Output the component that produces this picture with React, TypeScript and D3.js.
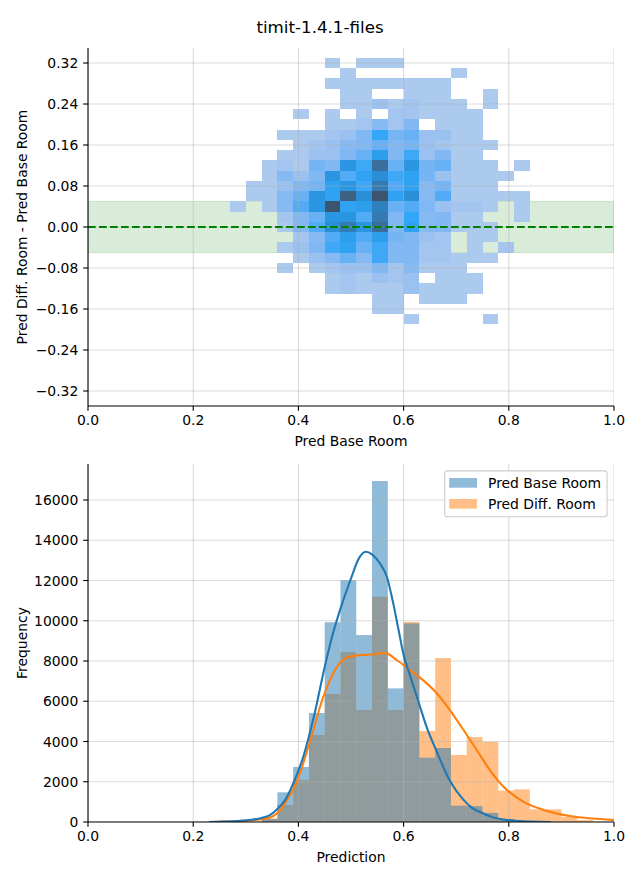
import React from 'react';
import * as d3 from 'd3';

const TITLE = 'timit-1.4.1-files';

// ---------- top panel: 2D histogram ----------
const heatXStart = 0.27;
const heatBinW = 0.03;
const heatBinH = 0.02;
const heatRowCenters = [0.32, 0.30, 0.28, 0.26, 0.24, 0.22, 0.20, 0.18, 0.16, 0.14, 0.12, 0.10, 0.08, 0.06, 0.04, 0.02, 0.00, -0.02, -0.04, -0.06, -0.08, -0.10, -0.12, -0.14, -0.16, -0.18];
const heatCounts = [
  [0,0,0,0,0,0,1,0,1,1,1,0,0,0,0,0,0,0,0],
  [0,0,0,0,0,0,0,1,0,0,0,0,0,0,1,0,0,0,0],
  [0,0,0,0,0,0,1,1,1,1,1,1,1,1,0,0,0,0,0],
  [0,0,0,0,0,0,0,1,1,0,0,1,1,1,0,0,1,0,0],
  [0,0,0,0,0,0,0,1,1,5,1,3,1,1,1,0,1,0,0],
  [0,0,0,0,1,0,1,0,1,0,3,3,1,1,1,1,0,0,0],
  [0,0,0,0,0,0,1,1,3,9,3,10,0,1,1,1,0,0,0],
  [0,0,0,1,1,1,3,5,10,20,12,14,5,5,1,1,0,0,0],
  [0,0,0,0,1,3,5,9,10,14,10,12,5,3,1,1,1,0,0],
  [0,0,0,1,1,5,5,10,14,24,10,19,5,10,1,1,0,0,0],
  [0,0,1,3,1,12,10,28,19,47,14,28,12,14,1,1,1,0,1],
  [0,0,1,9,5,10,28,17,22,31,19,22,12,5,1,1,1,1,0],
  [0,1,1,5,10,12,22,28,19,41,17,22,9,12,1,1,1,0,0],
  [0,1,1,9,14,28,22,54,31,60,22,31,9,17,1,1,1,1,1],
  [1,0,1,9,17,28,60,22,24,38,14,17,10,5,3,3,1,0,1],
  [0,0,0,3,10,14,28,28,17,41,10,20,9,10,1,1,0,0,1],
  [0,0,0,1,10,17,31,41,28,47,10,22,9,10,1,1,1,0,0],
  [0,0,0,0,3,9,17,24,17,24,12,10,5,3,0,1,1,0,0],
  [0,0,0,1,5,10,19,22,14,19,10,10,3,3,0,1,0,3,0],
  [0,0,0,0,1,5,9,14,9,19,10,10,3,3,1,1,1,0,0],
  [0,0,0,1,0,1,3,5,5,10,3,9,1,1,1,0,0,0,0],
  [0,0,0,0,0,0,1,3,1,5,3,5,0,1,1,1,0,0,0],
  [0,0,0,0,0,0,1,3,1,1,1,5,1,1,1,1,0,0,0],
  [0,0,0,0,0,0,0,0,0,1,1,0,1,1,1,0,0,0,0],
  [0,0,0,0,0,0,0,0,0,1,1,0,0,0,0,0,0,0,0],
  [0,0,0,0,0,0,0,0,0,0,0,1,0,0,0,0,1,0,0],
];
const bandLow = -0.05;
const bandHigh = 0.05;
const topYTicks = [0.32, 0.24, 0.16, 0.08, 0.0, -0.08, -0.16, -0.24, -0.32];
const xTicks = [0, 0.2, 0.4, 0.6, 0.8, 1.0];

// ---------- bottom panel: histograms + KDE ----------
const histBinW = 0.03;
const histBinStarts = [0.33, 0.36, 0.39, 0.42, 0.45, 0.48, 0.51, 0.54, 0.57, 0.60, 0.63, 0.66, 0.69, 0.72, 0.75, 0.78, 0.81, 0.84, 0.87, 0.90, 0.93];
const histBase = [150, 1475, 2733, 5416, 9925, 12025, 9290, 16944, 6640, 9870, 3196, 3677, 811, 790, 450, 150, 60, 20, 0, 0, 0];
const histDiff = [180, 845, 2100, 4323, 6360, 8450, 5565, 11196, 5565, 9940, 4522, 8149, 3329, 4223, 3990, 1560, 1620, 630, 630, 260, 100];

const kdeBaseX = [0.23, 0.26, 0.29, 0.31, 0.33, 0.345, 0.36, 0.375, 0.39, 0.41, 0.43, 0.45, 0.465, 0.48, 0.50, 0.515, 0.528, 0.54, 0.555, 0.568, 0.58, 0.59, 0.60, 0.612, 0.628, 0.644, 0.663, 0.688, 0.714, 0.73, 0.752, 0.77, 0.79, 0.82, 0.86, 0.88];
const kdeBaseY = [0, 20, 60, 110, 200, 330, 650, 1100, 1900, 3300, 5300, 7700, 9300, 10600, 12100, 13100, 13430, 13300, 12850, 12200, 10900, 9600, 8300, 7300, 6000, 4700, 3500, 2050, 1100, 700, 420, 230, 120, 50, 10, 0];
const kdeDiffX = [0.23, 0.26, 0.29, 0.31, 0.33, 0.346, 0.36, 0.375, 0.397, 0.422, 0.447, 0.473, 0.492, 0.511, 0.536, 0.565, 0.587, 0.612, 0.637, 0.663, 0.688, 0.714, 0.739, 0.764, 0.79, 0.828, 0.866, 0.916, 0.96, 1.0, 1.03];
const kdeDiffY = [0, 20, 50, 80, 140, 220, 450, 950, 2000, 4000, 6200, 7700, 8180, 8270, 8320, 8390, 8050, 7550, 7050, 6400, 5560, 4570, 3580, 2580, 1750, 1000, 600, 300, 170, 100, 60];
const freqTicks = [0, 2000, 4000, 6000, 8000, 10000, 12000, 14000, 16000];
const legendLabels = ['Pred Base Room', 'Pred Diff. Room'];

const BLUE = '#1f77b4';
const ORANGE = '#ff7f0e';

// ---------- HSLuv (for seaborn's sequential colormap) ----------
const M = [
  [3.240969941904521, -1.537383177570093, -0.498610760293],
  [-0.96924363628087, 1.87596750150772, 0.041555057407175],
  [0.055630079696993, -0.20397695888897, 1.056971514242878],
];
const MINV = [
  [0.41239079926595, 0.35758433938387, 0.18048078840183],
  [0.21263900587151, 0.71516867876775, 0.072192315360733],
  [0.019330818715591, 0.11919477979462, 0.95053215224966],
];
const REF_U = 0.19783000664283;
const REF_V = 0.46831999493879;
const KAPPA = 903.2962962;
const EPS = 0.0088564516;

function getBounds(L: number) {
  const res: [number, number][] = [];
  const sub1 = Math.pow(L + 16, 3) / 1560896;
  const sub2 = sub1 > EPS ? sub1 : L / KAPPA;
  for (const [m1, m2, m3] of M) {
    for (const t of [0, 1]) {
      const top1 = (284517 * m1 - 94839 * m3) * sub2;
      const top2 = (838422 * m3 + 769860 * m2 + 731718 * m1) * L * sub2 - 769860 * t * L;
      const bottom = (632260 * m3 - 126452 * m2) * sub2 + 126452 * t;
      res.push([top1 / bottom, top2 / bottom]);
    }
  }
  return res;
}
function maxChroma(L: number, H: number) {
  const hr = (H / 360) * Math.PI * 2;
  let min = Infinity;
  for (const [s, i] of getBounds(L)) {
    const len = i / (Math.sin(hr) - s * Math.cos(hr));
    if (len >= 0) min = Math.min(min, len);
  }
  return min;
}
function hsluvToRgb(H: number, S: number, L: number): number[] {
  if (L > 99.9999999) return [1, 1, 1];
  if (L < 1e-8) return [0, 0, 0];
  const C = (maxChroma(L, H) / 100) * S;
  const hr = (H / 360) * 2 * Math.PI;
  const U = Math.cos(hr) * C;
  const V = Math.sin(hr) * C;
  const varU = U / (13 * L) + REF_U;
  const varV = V / (13 * L) + REF_V;
  const Y = L <= 8 ? L / KAPPA : Math.pow((L + 16) / 116, 3);
  const X = -(9 * Y * varU) / ((varU - 4) * varV - varU * varV);
  const Z = (9 * Y - 15 * varV * Y - varV * X) / (3 * varV);
  return M.map((r) => {
    const c = r[0] * X + r[1] * Y + r[2] * Z;
    const v = c <= 0.0031308 ? 12.92 * c : 1.055 * Math.pow(c, 1 / 2.4) - 0.055;
    return Math.max(0, Math.min(1, v));
  });
}
function rgbToHsluv(r: number, g: number, b: number) {
  const lin = [r, g, b].map((c) => (c > 0.04045 ? Math.pow((c + 0.055) / 1.055, 2.4) : c / 12.92));
  const [X, Y, Z] = MINV.map((row) => row[0] * lin[0] + row[1] * lin[1] + row[2] * lin[2]);
  const L = Y <= EPS ? Y * KAPPA : 116 * Math.pow(Y, 1 / 3) - 16;
  const d = X + 15 * Y + 3 * Z;
  const U = 13 * L * ((4 * X) / d - REF_U);
  const V = 13 * L * ((9 * Y) / d - REF_V);
  const C = Math.sqrt(U * U + V * V);
  let H = (Math.atan2(V, U) * 180) / Math.PI;
  if (H < 0) H += 360;
  const S = (C / maxChroma(L, H)) * 100;
  return [H, S, L];
}
function buildCmap(hex: string) {
  const c = d3.rgb(hex);
  const [h, s] = rgbToHsluv(c.r / 255, c.g / 255, c.b / 255);
  const n = Math.floor(1.15 * 256);
  const cols: string[] = [];
  for (let i = 0; i < 256; i++) {
    const xx = -1 + (2 * i) / (n - 1);
    const rgb = hsluvToRgb(h, s * Math.cos(xx), 35 + (45 * i) / 255);
    cols.push(d3.rgb(rgb[0] * 255, rgb[1] * 255, rgb[2] * 255).formatHex());
  }
  cols.reverse();
  return (v: number) => cols[Math.max(0, Math.min(255, Math.floor(v * 256)))];
}

// ---------- layout ----------
const W = 640;
const H = 880;
const L0 = 88;
const R0 = 614;
const top1 = 48;
const bot1 = 406;
const top2 = 464;
const bot2 = 822;
const FONT = 'DejaVu Sans, sans-serif';
const FS = 13.9;
const TICK = 4.86;
const GRID = { stroke: '#b0b0b0', strokeOpacity: 0.45, strokeWidth: 1.1 };

export default function App() {
  const x = d3.scaleLinear().domain([0, 1]).range([L0, R0]);
  const y1 = d3.scaleLinear().domain([-0.3493, 0.3493]).range([bot1, top1]);
  const y2 = d3.scaleLinear().domain([0, 17790]).range([bot2, top2]);
  const cmap = buildCmap(BLUE);
  const flat = heatCounts.flat().filter((v) => v > 0);
  const vmin = d3.min(flat) as number;
  const vmax = d3.max(flat) as number;
  const norm = d3.scaleLinear().domain([vmin, vmax]).range([0, 1]);

  const lineGen = d3
    .line<[number, number]>()
    .x((d) => x(d[0]))
    .y((d) => y2(d[1]))
    .curve(d3.curveMonotoneX);
  const baseLine = lineGen(kdeBaseX.map((v, i) => [v, kdeBaseY[i]]) as [number, number][]) || '';
  const diffLine = lineGen(kdeDiffX.map((v, i) => [v, kdeDiffY[i]]) as [number, number][]) || '';

  const fmt2 = d3.format('.2f');
  const fmt1 = d3.format('.1f');

  return (
    <svg width={W} height={H} style={{ position: 'absolute', left: 0, top: 0, background: '#fff' }} fontFamily={FONT}>
      <defs>
        <clipPath id="clip1">
          <rect x={L0} y={top1} width={R0 - L0} height={bot1 - top1} />
        </clipPath>
        <clipPath id="clip2">
          <rect x={L0} y={top2} width={R0 - L0} height={bot2 - top2} />
        </clipPath>
      </defs>
      <rect x={0} y={0} width={W} height={H} fill="#fff" />
      <text x={W / 2} y={27} textAnchor="middle" dominantBaseline="central" fontSize={16.7}>
        {TITLE}
      </text>

      {/* ---------- top panel ---------- */}
      <g clipPath="url(#clip1)">
        <rect
          x={L0}
          y={y1(bandHigh)}
          width={R0 - L0}
          height={y1(bandLow) - y1(bandHigh)}
          fill="green"
          fillOpacity={0.15}
          stroke="green"
          strokeOpacity={0.15}
          strokeWidth={1}
        />
        {heatCounts.map((row, ri) =>
          row.map((cnt, ci) => {
            if (cnt <= 0) return null;
            const x0 = heatXStart + ci * heatBinW;
            const yc = heatRowCenters[ri];
            return (
              <rect
                key={`h${ri}-${ci}`}
                x={x(x0)}
                y={y1(yc + heatBinH / 2)}
                width={x(x0 + heatBinW) - x(x0)}
                height={y1(yc - heatBinH / 2) - y1(yc + heatBinH / 2)}
                fill={cmap(norm(cnt))}
                shapeRendering="crispEdges"
              />
            );
          })
        )}
        {xTicks.map((t) => (
          <line key={`gx1${t}`} x1={x(t)} x2={x(t)} y1={top1} y2={bot1} {...GRID} />
        ))}
        {topYTicks.map((t) => (
          <line key={`gy1${t}`} x1={L0} x2={R0} y1={y1(t)} y2={y1(t)} {...GRID} />
        ))}
        <line x1={L0} x2={R0} y1={y1(0)} y2={y1(0)} stroke="green" strokeWidth={2.08} strokeDasharray="7.7 3.3" />
      </g>
      <line x1={L0} x2={L0} y1={top1} y2={bot1} stroke="#000" strokeWidth={1.1} />
      <line x1={L0} x2={R0} y1={bot1} y2={bot1} stroke="#000" strokeWidth={1.1} />
      {xTicks.map((t) => (
        <g key={`tx1${t}`}>
          <line x1={x(t)} x2={x(t)} y1={bot1} y2={bot1 + TICK} stroke="#000" strokeWidth={1.1} />
          <text x={x(t)} y={420} textAnchor="middle" dominantBaseline="central" fontSize={FS}>
            {fmt1(t)}
          </text>
        </g>
      ))}
      {topYTicks.map((t) => (
        <g key={`ty1${t}`}>
          <line x1={L0 - TICK} x2={L0} y1={y1(t)} y2={y1(t)} stroke="#000" strokeWidth={1.1} />
          <text x={L0 - 9.7} y={y1(t)} textAnchor="end" dominantBaseline="central" fontSize={FS}>
            {fmt2(t)}
          </text>
        </g>
      ))}
      <text x={(L0 + R0) / 2} y={441} textAnchor="middle" dominantBaseline="central" fontSize={FS}>
        Pred Base Room
      </text>
      <text
        transform={`translate(22,${(top1 + bot1) / 2}) rotate(-90)`}
        textAnchor="middle"
        dominantBaseline="central"
        fontSize={FS}
      >
        Pred Diff. Room - Pred Base Room
      </text>

      {/* ---------- bottom panel ---------- */}
      <g clipPath="url(#clip2)">
        {histBinStarts.map((s, i) =>
          histDiff[i] > 0 ? (
            <rect
              key={`hd${i}`}
              x={x(s)}
              y={y2(histDiff[i])}
              width={x(s + histBinW) - x(s)}
              height={y2(0) - y2(histDiff[i])}
              fill={ORANGE}
              fillOpacity={0.5}
            />
          ) : null
        )}
        {histBinStarts.map((s, i) =>
          histBase[i] > 0 ? (
            <rect
              key={`hb${i}`}
              x={x(s)}
              y={y2(histBase[i])}
              width={x(s + histBinW) - x(s)}
              height={y2(0) - y2(histBase[i])}
              fill={BLUE}
              fillOpacity={0.5}
            />
          ) : null
        )}
        {xTicks.map((t) => (
          <line key={`gx2${t}`} x1={x(t)} x2={x(t)} y1={top2} y2={bot2} {...GRID} />
        ))}
        {freqTicks.map((t) => (
          <line key={`gy2${t}`} x1={L0} x2={R0} y1={y2(t)} y2={y2(t)} {...GRID} />
        ))}
        <path d={diffLine} fill="none" stroke={ORANGE} strokeWidth={2.08} />
        <path d={baseLine} fill="none" stroke={BLUE} strokeWidth={2.08} />
      </g>
      <line x1={L0} x2={L0} y1={top2} y2={bot2} stroke="#000" strokeWidth={1.1} />
      <line x1={L0} x2={R0} y1={bot2} y2={bot2} stroke="#000" strokeWidth={1.1} />
      {xTicks.map((t) => (
        <g key={`tx2${t}`}>
          <line x1={x(t)} x2={x(t)} y1={bot2} y2={bot2 + TICK} stroke="#000" strokeWidth={1.1} />
          <text x={x(t)} y={836} textAnchor="middle" dominantBaseline="central" fontSize={FS}>
            {fmt1(t)}
          </text>
        </g>
      ))}
      {freqTicks.map((t) => (
        <g key={`ty2${t}`}>
          <line x1={L0 - TICK} x2={L0} y1={y2(t)} y2={y2(t)} stroke="#000" strokeWidth={1.1} />
          <text x={L0 - 9.7} y={y2(t)} textAnchor="end" dominantBaseline="central" fontSize={FS}>
            {String(t)}
          </text>
        </g>
      ))}
      <text x={(L0 + R0) / 2} y={857} textAnchor="middle" dominantBaseline="central" fontSize={FS}>
        Prediction
      </text>
      <text
        transform={`translate(22,${(top2 + bot2) / 2}) rotate(-90)`}
        textAnchor="middle"
        dominantBaseline="central"
        fontSize={FS}
      >
        Frequency
      </text>

      {/* legend */}
      <g>
        <rect x={444.7} y={470.9} width={162.4} height={45.8} rx={2.8} ry={2.8} fill="#fff" fillOpacity={0.8} stroke="#cccccc" strokeWidth={1.1} />
        {legendLabels.map((lab, i) => (
          <g key={lab}>
            <rect x={449.2} y={478 + i * 21} width={27.8} height={9.7} fill={i === 0 ? BLUE : ORANGE} fillOpacity={0.5} />
            <text x={488} y={483 + i * 21} dominantBaseline="central" fontSize={FS}>
              {lab}
            </text>
          </g>
        ))}
      </g>
    </svg>
  );
}
